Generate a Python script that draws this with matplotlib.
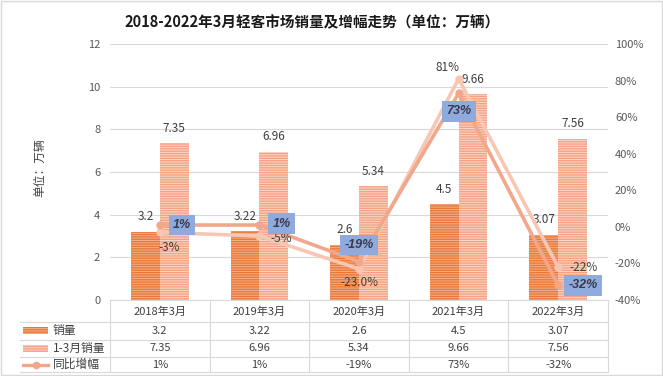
import numpy as np
import matplotlib
matplotlib.use("Agg")
import matplotlib.pyplot as plt
from matplotlib.patches import Rectangle
from matplotlib.lines import Line2D

plt.rcParams['font.family'] = ['Noto Sans CJK SC', 'DejaVu Sans']
plt.rcParams['hatch.linewidth'] = 1.0

categories = ['2018年3月', '2019年3月', '2020年3月', '2021年3月', '2022年3月']
sales = [3.2, 3.22, 2.6, 4.5, 3.07]
sales_ytd = [7.35, 6.96, 5.34, 9.66, 7.56]
yoy = [0.01, 0.01, -0.19, 0.73, -0.32]
yoy_ytd = [-0.03, -0.05, -0.23, 0.81, -0.22]
yoy_labels = ['1%', '1%', '-19%', '73%', '-32%']
yoy_ytd_labels = ['-3%', '-5%', '-23.0%', '81%', '-22%']

W, H = 663, 376
fig = plt.figure(figsize=(W / 100, H / 100), dpi=100)
fig.add_artist(Rectangle((0.002, 0.002), 0.996, 0.996, transform=fig.transFigure,
                         fill=False, edgecolor='#d9d9d9', lw=1))

ax = fig.add_axes([110 / W, 76 / H, 498 / W, 256 / H])
ax2 = ax.twinx()

x = np.arange(len(categories))
bw = 0.29
dark_face, dark_hatch = '#F4B089', '#E8793A'
light_face, light_hatch = '#FCD8C7', '#F4A183'
hatch = '-' * 7

b1 = ax.bar(x - bw / 2, sales, bw, color=dark_face, edgecolor=dark_hatch,
            hatch=hatch, lw=0, zorder=2)
b2 = ax.bar(x + bw / 2, sales_ytd, bw, color=light_face, edgecolor=light_hatch,
            hatch=hatch, lw=0, zorder=2)
for bars in (b1, b2):
    for r in bars:
        ax.annotate(f"{r.get_height():g}", (r.get_x() + r.get_width() / 2, r.get_height()),
                    xytext=(0, 6), textcoords='offset points', ha='center', va='bottom',
                    fontsize=8.5, color='#404040')

ax.set_xlim(-0.5, len(categories) - 0.5)
ax.set_ylim(0, 12)
ax.set_yticks(range(0, 13, 2))
ax.grid(axis='y', color='#d9d9d9', lw=0.8, zorder=0)
ax.set_axisbelow(True)
ax.set_xticks([])
for s in ax.spines.values():
    s.set_visible(False)
for s in ax2.spines.values():
    s.set_visible(False)
ax.tick_params(axis='y', length=0, labelsize=8, labelcolor='#595959', pad=7)

# growth lines
c_yoy, c_ytd = '#F2A78B', '#F8C7B4'
ax2.plot(x, yoy_ytd, color=c_ytd, lw=2.6, marker='o', ms=5, zorder=3)
ax2.plot(x, yoy, color=c_yoy, lw=2.6, marker='o', ms=5, zorder=4)
ax2.set_ylim(-0.4, 1.0)
ax2.set_yticks(np.arange(-0.4, 1.01, 0.2))
ax2.set_yticklabels([f"{v:.0f}%" for v in np.arange(-40, 101, 20)])
ax2.tick_params(axis='y', length=0, labelsize=8, labelcolor='#595959', pad=5)

box = dict(boxstyle='square,pad=0.35', fc='#8FAADC', ec='none')
yoy_off = [(16, 0), (16, 1), (0, 12), (0, -13), (18, 0)]
for i, (v, lab) in enumerate(zip(yoy, yoy_labels)):
    ax2.annotate(lab, (x[i], v), xytext=yoy_off[i], textcoords='offset points',
                 ha='center', va='center', fontsize=9, style='italic',
                 fontweight='bold', color='#3a3a4a', bbox=box, zorder=6,
                 family=['Liberation Sans', 'DejaVu Sans'])
ytd_off = [(7, -11), (16, -2), (0, -10), (-8, 8), (18, 0)]
for i, (v, lab) in enumerate(zip(yoy_ytd, yoy_ytd_labels)):
    ax2.annotate(lab, (x[i], v), xytext=ytd_off[i], textcoords='offset points',
                 ha='center', va='center', fontsize=8.5, color='#404040', zorder=5)

# data table below the plot
tr = ax.get_xaxis_transform()
row_y = [-0.047, -0.121, -0.189, -0.252]
line_y = [0.0, -0.086, -0.156, -0.221, -0.283]
left_x = -0.5 - 90 / 99.6
for yy in line_y:
    ax.plot([left_x if yy < 0 else -0.5, 4.5], [yy, yy], transform=tr, color='#d9d9d9',
            lw=0.8, clip_on=False)
for xv in np.arange(-0.5, 4.6, 1):
    ax.plot([xv, xv], [0, line_y[-1]], transform=tr, color='#d9d9d9', lw=0.8, clip_on=False)
for i, c in enumerate(categories):
    ax.text(x[i], row_y[0], c, transform=tr, ha='center', va='center', fontsize=8,
            color='#404040')
rows = [[f"{v:g}" for v in sales], [f"{v:g}" for v in sales_ytd], yoy_labels]
names = ['销量', '1-3月销量', '同比增幅']
for r, (vals, name) in enumerate(zip(rows, names)):
    yy = row_y[r + 1]
    for i, v in enumerate(vals):
        ax.text(x[i], yy, v, transform=tr, ha='center', va='center', fontsize=8,
                color='#404040')
    yp = 1 - (300 - yy * 256) / H
    fig.text(53 / W, yp, name, ha='left', va='center', fontsize=8.5, color='#404040')
    if r < 2:
        fc, hc = (dark_face, dark_hatch) if r == 0 else (light_face, light_hatch)
        fig.add_artist(Rectangle((23 / W, yp - 3.5 / H), 25 / W, 7 / H, transform=fig.transFigure,
                                 facecolor=fc, edgecolor=hc, hatch=hatch, lw=0))
    else:
        fig.add_artist(Line2D([23 / W, 48 / W], [yp, yp], transform=fig.transFigure,
                              color=c_yoy, lw=2.4))
        fig.add_artist(Line2D([35.5 / W], [yp], transform=fig.transFigure, color=c_yoy,
                              marker='o', ms=4.5, lw=0))

fig.text(312 / W, 1 - 22 / H, '2018-2022年3月轻客市场销量及增幅走势（单位：万辆）',
         ha='center', va='center', fontsize=10.5, fontweight='bold', color='#1a1a1a')
fig.text(40 / W, 1 - 168 / H, '单位：万辆', rotation=90, ha='center', va='center',
         fontsize=8.5, color='#404040')

fig.savefig('out.png', dpi=100)
